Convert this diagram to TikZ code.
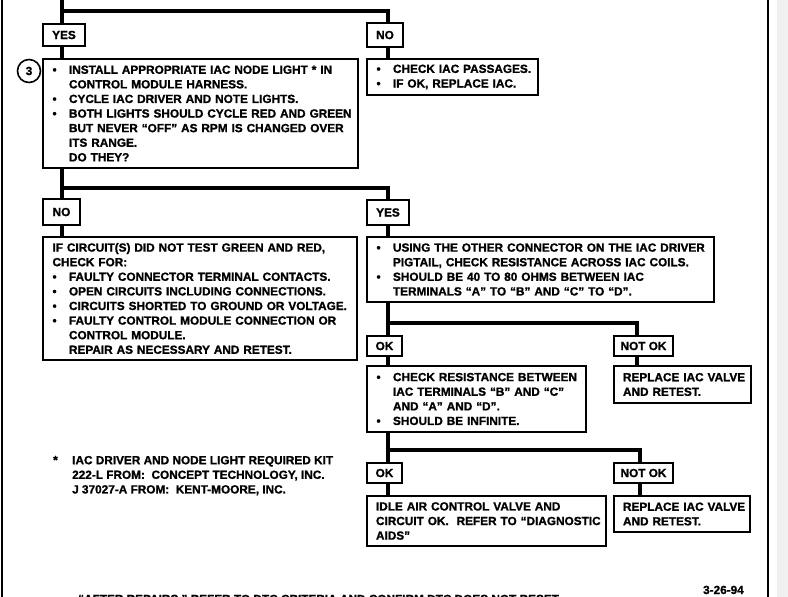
\documentclass[tikz,border=0pt]{standalone}
\usepackage{fontspec}
\setmainfont{Liberation Sans}[BoldFeatures={FakeBold=1.2}]
\newcommand{\bl}[1]{\makebox[16.5pt][l]{\textbullet}\mbox{#1}}
\newcommand{\ind}[1]{\hspace*{16.5pt}\mbox{#1}}
\newcommand{\pl}[1]{\mbox{#1}}
\begin{document}
\begin{tikzpicture}[x=1pt,y=-1pt,
  txt/.style={font=\fontsize{11.8}{14.6}\selectfont\bfseries},
  body/.style={txt, draw, line width=1.8pt, anchor=north west, align=left,
    inner xsep=9.5pt, inner ysep=0pt, outer sep=0pt},
  tag/.style={txt, draw, line width=1.8pt, anchor=north west, inner sep=0pt, outer sep=0pt},
  conn/.style={line width=4pt}]
\useasboundingbox (0,0) rectangle (788,597);
\fill[white] (0,0) rectangle (788,597);
\fill[gray!12] (777,-2) rectangle (790,600);
\draw[line width=2pt] (1.5,-2) -- (1.5,600);
\draw[line width=2pt] (768,-2) -- (768,600);

% column coordinates
\coordinate (in) at (62,-5);
\coordinate (j1) at (62,11);
\coordinate (colR) at (388,0);
\coordinate (j2) at (62,188);
\coordinate (j3) at (388,323);
\coordinate (colN1) at (637,0);
\coordinate (j4) at (388,450);
\coordinate (colN2) at (640,0);

% first level
\node[tag, minimum width=42pt, minimum height=22pt] (yes1) at (43,24) {YES};
\node[tag, minimum width=36pt, minimum height=24pt] (no1) at (367,23) {NO};
\node[body, text width=296pt, minimum height=109pt] (main1) at (43,59) {%
\bl{INSTALL APPROPRIATE IAC NODE LIGHT * IN}\\
\ind{CONTROL MODULE HARNESS.}\\
\bl{CYCLE IAC DRIVER AND NOTE LIGHTS.}\\
\bl{BOTH LIGHTS SHOULD CYCLE RED AND GREEN}\\
\ind{BUT NEVER “OFF” AS RPM IS CHANGED OVER}\\
\ind{ITS RANGE.}\\
\ind{DO THEY?}};
\node[txt, circle, draw, line width=1.6pt, minimum size=23pt, inner sep=0pt] (c3) at (29,71) {3};
\node[body, text width=152pt, minimum height=36pt] (no1b) at (367,59) {%
\bl{CHECK IAC PASSAGES.}\\
\bl{IF OK, REPLACE IAC.}};

% second level
\node[tag, minimum width=37pt, minimum height=26pt] (no2) at (43,199) {NO};
\node[tag, minimum width=42pt, minimum height=25pt] (yes2) at (367,200) {YES};
\node[body, text width=295pt, minimum height=123pt] (no2b) at (43,237) {%
\pl{IF CIRCUIT(S) DID NOT TEST GREEN AND RED,}\\
\pl{CHECK FOR:}\\
\bl{FAULTY CONNECTOR TERMINAL CONTACTS.}\\
\bl{OPEN CIRCUITS INCLUDING CONNECTIONS.}\\
\bl{CIRCUITS SHORTED TO GROUND OR VOLTAGE.}\\
\bl{FAULTY CONTROL MODULE CONNECTION OR}\\
\ind{CONTROL MODULE.}\\
\ind{REPAIR AS NECESSARY AND RETEST.}};
\node[body, text width=328pt, minimum height=65pt] (yes2b) at (367,237) {%
\bl{USING THE OTHER CONNECTOR ON THE IAC DRIVER}\\
\ind{PIGTAIL, CHECK RESISTANCE ACROSS IAC COILS.}\\
\bl{SHOULD BE 40 TO 80 OHMS BETWEEN IAC}\\
\ind{TERMINALS “A” TO “B” AND “C” TO “D”.}};

% third level
\node[tag, minimum width=35pt, minimum height=20pt] (ok1) at (367,336) {OK};
\node[tag, minimum width=59pt, minimum height=20pt] (nok1) at (614,336) {NOT OK};
\node[body, text width=200pt, minimum height=66pt] (check) at (367,366) {%
\bl{CHECK RESISTANCE BETWEEN}\\
\ind{IAC TERMINALS “B” AND “C”}\\
\ind{AND “A” AND “D”.}\\
\bl{SHOULD BE INFINITE.}};
\node[body, inner xsep=9pt, text width=119pt, minimum height=37pt] (rep1) at (614,366) {%
\pl{REPLACE IAC VALVE}\\
\pl{AND RETEST.}};

% fourth level
\node[tag, minimum width=35pt, minimum height=20pt] (ok2) at (367,463) {OK};
\node[tag, minimum width=59pt, minimum height=20pt] (nok2) at (614,463) {NOT OK};
\node[body, inner xsep=9pt, text width=221pt, minimum height=50pt] (idle) at (367,496) {%
\pl{IDLE AIR CONTROL VALVE AND}\\
\pl{CIRCUIT OK.\ \ REFER TO “DIAGNOSTIC}\\
\pl{AIDS”}};
\node[body, inner xsep=9pt, text width=118pt, minimum height=36pt] (rep2) at (614,496) {%
\pl{REPLACE IAC VALVE}\\
\pl{AND RETEST.}};

% connectors
\draw[conn] (in) -- (yes1.north -| j1);
\draw[conn] (j1) -| (no1.north -| colR);
\draw[conn] (yes1.south -| j1) -- (main1.north -| j1);
\draw[conn] (no1.south -| colR) -- (no1b.north -| colR);
\draw[conn] (main1.south -| j2) -- (no2.north -| j2);
\draw[conn] (j2) -| (yes2.north -| colR);
\draw[conn] (no2.south -| j2) -- (no2b.north -| j2);
\draw[conn] (yes2.south -| colR) -- (yes2b.north -| colR);
\draw[conn] (yes2b.south -| j3) -- (ok1.north -| j3);
\draw[conn] (j3) -| (nok1.north -| colN1);
\draw[conn] (ok1.south -| j3) -- (check.north -| j3);
\draw[conn] (nok1.south -| colN1) -- (rep1.north -| colN1);
\draw[conn] (check.south -| j4) -- (ok2.north -| j4);
\draw[conn] (j4) -| (nok2.north -| colN2);
\draw[conn] (ok2.south -| j4) -- (idle.north -| j4);
\draw[conn] (nok2.south -| colN2) -- (rep2.north -| colN2);

% footnote and bottom texts
\node[txt, anchor=base west, inner sep=0pt] (fnstar) at (53,464) {*};
\node[txt, anchor=north west, align=left, inner sep=0pt] (fn) at (72,455.8) {%
IAC DRIVER AND NODE LIGHT REQUIRED KIT\\
222-L FROM:\ \ CONCEPT TECHNOLOGY, INC.\\
J 37027-A FROM:\ \ KENT-MOORE, INC.};
\node[txt, anchor=base east, inner sep=0pt] (date) at (744,594) {3-26-94};
\node[txt, anchor=base west, inner sep=0pt] (after) at (78,603) {“AFTER REPAIRS,” REFER TO DTC CRITERIA AND CONFIRM DTC DOES NOT RESET.};
\end{tikzpicture}
\end{document}
